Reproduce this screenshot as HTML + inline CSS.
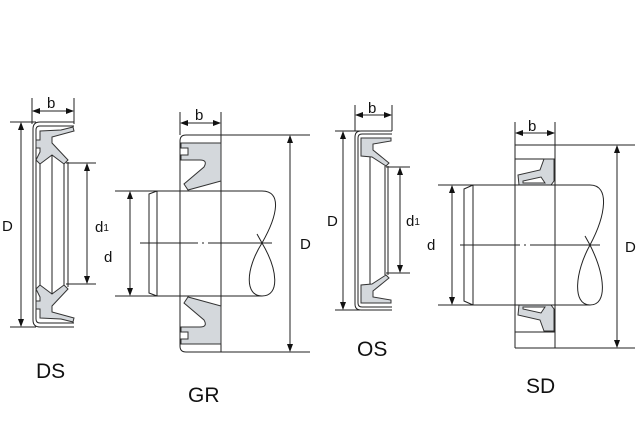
<!DOCTYPE html>
<html><head><meta charset="utf-8"><style>
html,body{margin:0;padding:0;background:#fff;width:640px;height:440px;overflow:hidden}
text{font-family:"Liberation Sans","DejaVu Sans",sans-serif;fill:#111}
</style></head><body>
<svg width="640" height="440" viewBox="0 0 640 440" xmlns="http://www.w3.org/2000/svg">
<defs>
<marker id="a" markerWidth="8" markerHeight="8" refX="7" refY="4" orient="auto-start-reverse" markerUnits="userSpaceOnUse"><path d="M0,1 L8,4 L0,7 Z" fill="#111"/></marker>
</defs>
<g stroke="#222" stroke-width="1" fill="none">
<!-- DS -->
<line x1="32" y1="98" x2="32" y2="124"/><line x1="74" y1="98" x2="74" y2="124"/>
<line x1="33" y1="111" x2="73" y2="111" marker-start="url(#a)" marker-end="url(#a)"/>
<line x1="10" y1="122" x2="36" y2="122"/><line x1="10" y1="327" x2="36" y2="327"/>
<line x1="21" y1="123" x2="21" y2="326" marker-start="url(#a)" marker-end="url(#a)"/>
<path d="M74,122 H40 Q33,122 33,129 V320 Q33,327 40,327 H74"/>
<path d="M74,126 H40 Q36,126 36,130 V319 Q36,323 40,323 H74"/>
<path d="M40,131 L61,130 L73,127 L74,131 L52,137 L52,143 L68,160 L64,164 L52,155 L40,164 L36,160 L40,152 L40,148 L36,148 V140 L40,140 Z" fill="#d4d8dc" stroke="#333"/>
<path d="M40,318 L61,319 L73,322 L74,318 L52,312 L52,306 L68,289 L64,285 L52,294 L40,285 L36,289 L40,297 L40,301 L36,301 V309 L40,309 Z" fill="#d4d8dc" stroke="#333"/>
<line x1="40" y1="164" x2="40" y2="285"/><line x1="52" y1="155" x2="52" y2="294"/>
<line x1="64" y1="164" x2="64" y2="285"/><line x1="68" y1="162" x2="68" y2="287"/>
<line x1="66" y1="163" x2="96" y2="163"/><line x1="66" y1="284" x2="96" y2="284"/>
<line x1="87" y1="164" x2="87" y2="283" marker-start="url(#a)" marker-end="url(#a)"/>
<!-- GR -->
<line x1="180" y1="112" x2="180" y2="135"/><line x1="221" y1="112" x2="221" y2="352"/>
<line x1="181" y1="123" x2="220" y2="123" marker-start="url(#a)" marker-end="url(#a)"/>
<path d="M221,135 H186 Q180,135 180,141 V346 Q180,352 186,352 H221"/>
<line x1="221" y1="135" x2="310" y2="135"/><line x1="221" y1="352" x2="310" y2="352"/>
<line x1="290" y1="136" x2="290" y2="351" marker-start="url(#a)" marker-end="url(#a)"/>
<path d="M181,143 H221 V181 L188,190 L184,184 L204,167 Q208,160 200,160 L181,160 V155 H188 V148 H181 Z" fill="#d4d8dc" stroke="#333"/>
<path d="M181,344 H221 V306 L188,297 L184,303 L204,320 Q208,327 200,327 L181,327 V332 H188 V339 H181 Z" fill="#d4d8dc" stroke="#333"/>
<path d="M157,191 H262 C282,191 278,215 262,243 C245,270 245,296 262,296 C280,296 278,270 262,243 L257,234"/>
<path d="M157,191 V296 H262"/>
<path d="M157,191 L149,194 V293 L157,296"/>
<line x1="115" y1="191" x2="157" y2="191"/><line x1="115" y1="296" x2="157" y2="296"/>
<line x1="130" y1="192" x2="130" y2="295" marker-start="url(#a)" marker-end="url(#a)"/>
<line x1="140" y1="243" x2="198" y2="243"/><line x1="202" y1="243" x2="204" y2="243"/><line x1="208" y1="243" x2="272" y2="243"/>
<!-- OS -->
<line x1="355" y1="105" x2="355" y2="131"/><line x1="392" y1="105" x2="392" y2="131"/>
<line x1="356" y1="115" x2="391" y2="115" marker-start="url(#a)" marker-end="url(#a)"/>
<line x1="335" y1="131" x2="360" y2="131"/><line x1="335" y1="310" x2="360" y2="310"/>
<line x1="343" y1="132" x2="343" y2="309" marker-start="url(#a)" marker-end="url(#a)"/>
<path d="M392,131 H361 Q355,131 355,137 V304 Q355,310 361,310 H392"/>
<path d="M392,134 H362 Q358,134 358,138 V303 Q358,307 362,307 H392"/>
<path d="M361,138 H391 V141 L373,144 V150 L389,163 L386,166 L372,157 L361,156 Z" fill="#d4d8dc" stroke="#333"/>
<path d="M361,303 H391 V300 L373,297 V291 L389,278 L386,275 L372,284 L361,285 Z" fill="#d4d8dc" stroke="#333"/>
<line x1="370" y1="157" x2="370" y2="284"/><line x1="385" y1="166" x2="385" y2="275"/><line x1="388" y1="166" x2="388" y2="275"/>
<line x1="386" y1="167" x2="410" y2="167"/><line x1="386" y1="273" x2="410" y2="273"/>
<line x1="400" y1="168" x2="400" y2="272" marker-start="url(#a)" marker-end="url(#a)"/>
<!-- SD -->
<line x1="515" y1="122" x2="515" y2="348"/><line x1="555" y1="122" x2="555" y2="348"/>
<line x1="516" y1="133" x2="554" y2="133" marker-start="url(#a)" marker-end="url(#a)"/>
<line x1="515" y1="145" x2="635" y2="145"/><line x1="515" y1="348" x2="635" y2="348"/>
<line x1="617" y1="146" x2="617" y2="347" marker-start="url(#a)" marker-end="url(#a)"/>
<line x1="515" y1="159" x2="555" y2="159"/><line x1="515" y1="332" x2="555" y2="332"/>
<path d="M544,159 H554 V181 L551,185 L519,185 L518,175 L540,170 Z" fill="#d4d8dc" stroke="#333"/>
<path d="M523,183 H545 L541,177 L523,181 Z" fill="#fff" stroke="#333"/>
<path d="M544,331 H554 V309 L551,305 L519,305 L518,315 L540,320 Z" fill="#d4d8dc" stroke="#333"/>
<path d="M523,307 H545 L541,313 L523,309 Z" fill="#fff" stroke="#333"/>
<path d="M473,185 H590 C610,185 606,215 590,245 C575,272 572,305 590,305 C608,305 605,275 590,245 L585,236"/>
<path d="M473,185 V305 H590"/>
<path d="M473,185 L464,189 V301 L473,305"/>
<line x1="438" y1="185" x2="473" y2="185"/><line x1="438" y1="305" x2="473" y2="305"/>
<line x1="452" y1="186" x2="452" y2="304" marker-start="url(#a)" marker-end="url(#a)"/>
<line x1="460" y1="245" x2="520" y2="245"/><line x1="524" y1="245" x2="526" y2="245"/><line x1="530" y1="245" x2="600" y2="245"/>
</g>
<g font-size="15">
<text x="47" y="108">b</text>
<text x="195" y="120">b</text>
<text x="368" y="113">b</text>
<text x="528" y="131">b</text>
<text x="2" y="231">D</text>
<text x="300" y="249">D</text>
<text x="327" y="226">D</text>
<text x="625" y="252">D</text>
<text x="95" y="232">d<tspan font-size="10" dy="-1">1</tspan></text>
<text x="406" y="226">d<tspan font-size="10" dy="-1">1</tspan></text>
<text x="104" y="262">d</text>
<text x="427" y="250">d</text>
</g>
<g font-size="21">
<text x="36" y="378">DS</text>
<text x="188" y="402">GR</text>
<text x="357" y="356">OS</text>
<text x="526" y="393">SD</text>
</g>
</svg>
</body></html>
